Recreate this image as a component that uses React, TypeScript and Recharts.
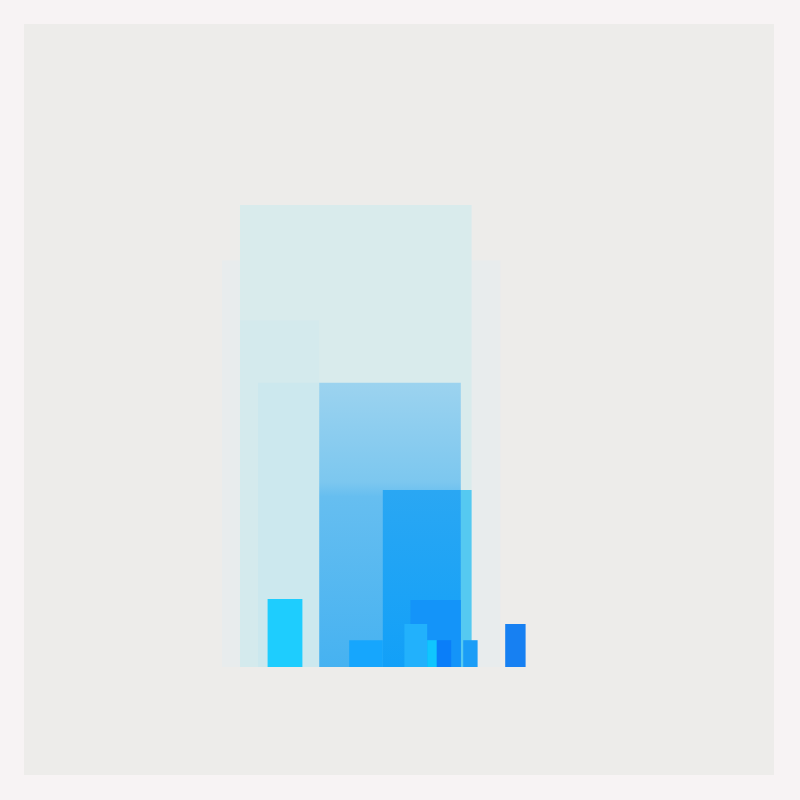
import React from 'react';
import { ComposedChart, Area, XAxis, YAxis } from 'recharts';

// one entry per block, back to front; x in column slots (0-26), height in % of the tallest block
const blockNames = [
    'haze', 'veil', 'leftWash', 'leftWashLow', 'midBlock', 'cyanStrip', 'deepBlock', 'coreBlock',
    'tallCyan', 'lowBlue', 'stepBlue', 'thinCyan', 'inkBlue', 'sideBlue', 'farBlue',
];
const blockStart = [0.5, 2.0, 2.0, 3.5, 8.6, 20.4, 13.9, 16.2, 4.3, 11.1, 15.7, 17.6, 18.4, 20.6, 24.1];
const blockEnd = [23.7, 21.3, 8.6, 8.6, 20.4, 21.3, 20.4, 20.4, 7.2, 13.9, 17.6, 18.4, 19.6, 21.8, 25.8];
const blockHeight = [88, 100, 75, 61.5, 61.5, 38.3, 38.3, 14.5, 14.7, 5.8, 9.3, 5.8, 5.8, 5.8, 9.3];

const COLORS = [
    '#e8eced', '#d9ebec', '#d4eaed', '#cce8ee', 'url(#midFade)', '#55c9f1', 'url(#deepFade)', '#1494f9',
    '#1ecdfe', '#16a6fd', '#22b1fc', '#10c6fe', '#0a7ef9', '#1b9df7', '#1780f2',
];

const blocks = blockNames.map((name, i) => ({
    name,
    data: [
        { x: blockStart[i], v: blockHeight[i] },
        { x: blockEnd[i], v: blockHeight[i] },
    ],
}));

const App: React.FC = () => {
    return (
        <div style={{ position: 'fixed', left: 0, top: 0, width: 800, height: 800, background: '#f7f3f4' }}>
            <div style={{ position: 'absolute', left: 24, top: 24, width: 750, height: 751, background: '#edecea' }} />
            <div style={{ position: 'absolute', left: 0, top: 0 }}>
                <ComposedChart width={800} height={800} margin={{ top: 205, right: 272, bottom: 133, left: 216 }}>
                    <defs>
                        <linearGradient id="midFade" x1="0" y1="0" x2="0" y2="1">
                            <stop offset="0%" stopColor="#9cd3ef" />
                            <stop offset="35%" stopColor="#7cc7ef" />
                            <stop offset="40%" stopColor="#66bef0" />
                            <stop offset="100%" stopColor="#46b2f1" />
                        </linearGradient>
                        <linearGradient id="deepFade" x1="0" y1="0" x2="0" y2="1">
                            <stop offset="0%" stopColor="#2aa7f3" />
                            <stop offset="100%" stopColor="#12a0f8" />
                        </linearGradient>
                    </defs>
                    <XAxis type="number" dataKey="x" domain={[0, 26]} hide allowDataOverflow />
                    <YAxis type="number" domain={[0, 100]} hide allowDataOverflow />
                    {blocks.map((b, i) => (
                        <Area
                            key={b.name}
                            name={b.name}
                            data={b.data}
                            dataKey="v"
                            type="linear"
                            stroke="none"
                            fill={COLORS[i]}
                            fillOpacity={1}
                            dot={false}
                            activeDot={false}
                            isAnimationActive={false}
                        />
                    ))}
                </ComposedChart>
            </div>
        </div>
    );
};

export default App;
